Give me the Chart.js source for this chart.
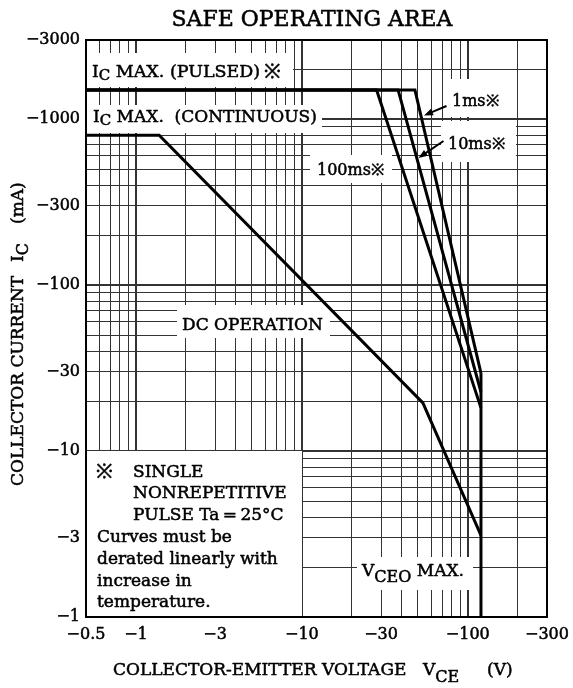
<!DOCTYPE html>
<html><head><meta charset="utf-8">
<script src="https://cdn.jsdelivr.net/npm/chart.js@4.4.0/dist/chart.umd.min.js"></script>
<style>html,body{margin:0;padding:0;background:#fff}#wrap{width:573px;height:688px}</style>
</head><body><div id="wrap"><canvas id="c" width="573" height="688"></canvas></div>
<script>
// Magnitudes (the chart labels them negative: PNP device)
const xTickLabels = [0.5, 1, 3, 10, 30, 100, 300];
const yTickLabels = [1, 3, 10, 30, 100, 300, 1000, 3000];
const xGrid = [0.5,0.6,0.7,0.8,0.9,1,2,3,4,5,6,7,8,9,10,20,30,40,50,60,70,80,90,100,200,300];
const yGrid = [1,2,3,4,5,6,7,8,9,10,20,30,40,50,60,70,80,90,100,200,300,400,500,600,700,800,900,1000,2000,3000];

const vce1ms = [0.5, 48, 120];
const ic1ms = [1500, 1500, 29.5];
const vce10ms = [0.5, 38, 120];
const ic10ms = [1500, 1500, 22.7];
const vce100ms = [0.5, 28.2, 120];
const ic100ms = [1500, 1500, 18.2];
const vceDC = [0.5, 1.38, 53.6, 120];
const icDC = [800, 800, 19.5, 3.1];
const vceoMax = [120, 120];
const icVceo = [1, 29.5];

const FONT = '"DejaVu Serif", "Liberation Serif", serif';
const pts = (xs, ys) => xs.map((x, i) => ({x: x, y: ys[i]}));
const isDecade = v => Math.abs(Math.log10(v) - Math.round(Math.log10(v))) < 1e-9;
const hasLabel = (arr, v) => arr.some(a => Math.abs(a - v) < 1e-9);
const lineDs = (label, xs, ys) => ({label, data: pts(xs, ys), showLine: true, borderColor: '#000',
  borderWidth: 3, pointRadius: 0, fill: false, tension: 0, borderJoinStyle: 'miter'});

function rich(ctx, x, y, parts, align) {
  let w = 0;
  parts.forEach(p => { ctx.font = p[1] + 'px ' + FONT; w += ctx.measureText(p[0]).width; });
  let cx = align === 'center' ? x - w / 2 : x;
  ctx.textAlign = 'left'; ctx.textBaseline = 'alphabetic';
  ctx.fillStyle = '#000'; ctx.strokeStyle = '#000'; ctx.lineWidth = 0.5; ctx.lineJoin = 'round';
  parts.forEach(p => {
    ctx.font = p[1] + 'px ' + FONT;
    ctx.fillText(p[0], cx, y + (p[2] || 0));
    ctx.strokeText(p[0], cx, y + (p[2] || 0));
    cx += ctx.measureText(p[0]).width;
  });
}
function arrow(ctx, x1, y1, x2, y2) {
  const a = Math.atan2(y2 - y1, x2 - x1), L = 9, W = 3.5;
  ctx.beginPath(); ctx.moveTo(x1, y1); ctx.lineTo(x2 - Math.cos(a) * L * 0.8, y2 - Math.sin(a) * L * 0.8);
  ctx.lineWidth = 2; ctx.strokeStyle = '#000'; ctx.stroke();
  ctx.beginPath(); ctx.moveTo(x2, y2);
  ctx.lineTo(x2 - Math.cos(a) * L - Math.sin(a) * W, y2 - Math.sin(a) * L + Math.cos(a) * W);
  ctx.lineTo(x2 - Math.cos(a) * L + Math.sin(a) * W, y2 - Math.sin(a) * L - Math.cos(a) * W);
  ctx.closePath(); ctx.fillStyle = '#000'; ctx.fill();
}

const boxes = [[86,53,293,87],[86,105,322,133],[443,79,510,117],[441,121,516,162],
  [310,155,392,183],[177,305,330,338],[357,557,473,590],[86,451,302,617]];

const decor = {
  id: 'decor',
  beforeDatasetsDraw(chart) {
    const ctx = chart.ctx; ctx.save(); ctx.fillStyle = '#fff';
    boxes.forEach(b => ctx.fillRect(b[0], b[1], b[2] - b[0], b[3] - b[1]));
    ctx.restore();
  },
  afterDatasetsDraw(chart) {
    const ctx = chart.ctx, a = chart.chartArea; ctx.save();
    ctx.lineWidth = 2; ctx.strokeStyle = '#000';
    ctx.strokeRect(a.left, a.top, a.right - a.left, a.bottom - a.top);
    // title
    rich(ctx, 312, 26, [['SAFE OPERATING AREA', 22]], 'center');
    // labels
    rich(ctx, 92, 77, [['I', 17], ['C', 15, 3], [' MAX. (PULSED)', 17.5], ['\u2009\u203B', 20, 1]]);
    rich(ctx, 93, 122, [['I', 17], ['C', 15, 3], [' MAX.  (CONTINUOUS)', 17]]);
    rich(ctx, 452, 106, [['1ms\u203B', 16]]);
    rich(ctx, 448, 149, [['10ms\u203B', 16]]);
    rich(ctx, 317, 175, [['100ms\u203B', 16]]);
    rich(ctx, 182, 330, [['DC OPERATION', 17]]);
    rich(ctx, 362, 576, [['V', 17], ['CEO', 16, 6], [' MAX.', 17]]);
    arrow(ctx, 446.5, 106, 424, 115.5);
    arrow(ctx, 443.5, 141, 418.5, 158);
    // note
    rich(ctx, 96, 477, [['\u203B', 20, 1]]);
    rich(ctx, 133, 477, [['SINGLE', 17]]);
    rich(ctx, 133, 498, [['NONREPETITIVE', 17]]);
    rich(ctx, 133, 519.5, [['PULSE Ta\u2009=\u200925\u00B0C', 17]]);
    rich(ctx, 97, 541.5, [['Curves must be', 17]]);
    rich(ctx, 97, 563.5, [['derated linearly with', 17]]);
    rich(ctx, 97, 585.5, [['increase in', 17]]);
    rich(ctx, 97, 607, [['temperature.', 17]]);
    // x axis title
    rich(ctx, 113, 675, [['COLLECTOR-EMITTER VOLTAGE', 17]]);
    rich(ctx, 423, 675, [['V', 17], ['CE', 16, 7]]);
    rich(ctx, 487, 675, [['(V)', 17]]);
    // y axis title
    ctx.translate(23, 0); ctx.rotate(-Math.PI / 2);
    rich(ctx, -486, 0, [['COLLECTOR CURRENT', 17]]);
    rich(ctx, -262, 0, [['I', 17], ['C', 16, 5]]);
    rich(ctx, -224, 0, [['(mA)', 17]]);
    ctx.restore();
  }
};

const tickOpts = labels => ({ autoSkip: false, maxRotation: 0, color: '#000',
  textStrokeColor: '#000', textStrokeWidth: 0.5,
  font: { family: FONT, size: 16 },
  callback: v => hasLabel(labels, v) ? '\u2212' + v : '' });

new Chart(document.getElementById('c'), {
  type: 'scatter',
  data: { datasets: [
    lineDs('1ms', vce1ms, ic1ms),
    lineDs('10ms', vce10ms, ic10ms),
    lineDs('100ms', vce100ms, ic100ms),
    lineDs('DC', vceDC, icDC),
    lineDs('VCEO max', vceoMax, icVceo)
  ]},
  options: {
    responsive: false, animation: false, devicePixelRatio: 1,
    layout: { padding: { left: 0, right: 26, top: 40, bottom: 0 } },
    plugins: { legend: { display: false }, tooltip: { enabled: false }, title: { display: false } },
    scales: {
      x: {
        type: 'logarithmic', min: 0.5, max: 300,
        afterBuildTicks: s => { s.ticks = xGrid.map(v => ({ value: v })); },
        afterFit: s => { s.height = 71; s.paddingLeft = 0; s.paddingRight = 0; },
        ticks: Object.assign(tickOpts(xTickLabels), { padding: 8 }),
        grid: { drawTicks: false, color: '#333', lineWidth: c => (c.tick && isDecade(c.tick.value)) ? 2 : 1 },
        border: { display: true, color: '#000', width: 2 }
      },
      y: {
        type: 'logarithmic', min: 1, max: 3000,
        afterBuildTicks: s => { s.ticks = yGrid.map(v => ({ value: v })); },
        afterFit: s => { s.width = 86; s.paddingTop = 0; s.paddingBottom = 0; },
        ticks: Object.assign(tickOpts(yTickLabels), { padding: 6 }),
        grid: { drawTicks: false, color: '#333', lineWidth: c => (c.tick && isDecade(c.tick.value)) ? 2 : 1 },
        border: { display: true, color: '#000', width: 2 }
      }
    }
  },
  plugins: [decor]
});
</script></body></html>
